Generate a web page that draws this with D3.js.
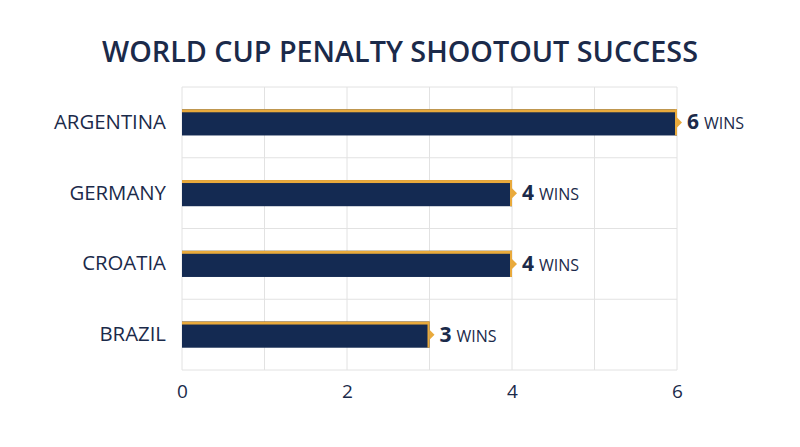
<!DOCTYPE html>
<html><head><meta charset="utf-8">
<script src="https://cdn.jsdelivr.net/npm/d3@7/dist/d3.min.js"></script>
<style>body{margin:0;background:#fff;} svg{display:block;}</style>
</head><body>
<svg id="c" width="800" height="447"></svg>
<script>
const categories = ["ARGENTINA", "GERMANY", "CROATIA", "BRAZIL"];
const wins = [6, 4, 4, 3];
const tickValues = [0, 2, 4, 6];
const title = "WORLD CUP PENALTY SHOOTOUT SUCCESS";
const unit = "WINS";

const navy = "#142a52", gold = "#e9aa3c", ink = "#1b2a4a", grid = "#e2e2e2";
const font = "'Open Sans', Lato, sans-serif";
const svg = d3.select("#c");
const m = {left: 182, right: 677, top: 87, bottom: 370};
const x = d3.scaleLinear().domain([0, 6]).range([m.left, m.right]);
const y = d3.scaleBand().domain(categories).range([m.top, m.bottom]).paddingInner(0.63).paddingOuter(0.315);

const t = svg.append("text").attr("x", 400).attr("y", 62).attr("text-anchor", "middle")
  .attr("font-family", font).attr("font-weight", 600).attr("font-size", 24).attr("fill", ink)
  .text(title);
const tw = t.node().getComputedTextLength();
t.attr("font-size", 24 * 596 / tw);

// grid
const g = svg.append("g");
g.selectAll("line.v").data(d3.range(0, 7)).join("line")
  .attr("x1", d => x(d)).attr("x2", d => x(d)).attr("y1", m.top).attr("y2", m.bottom)
  .attr("stroke", grid).attr("stroke-width", 1);
const hLines = d3.range(categories.length + 1).map(i => m.top + i * (m.bottom - m.top) / categories.length);
g.selectAll("line.h").data(hLines).join("line")
  .attr("x1", m.left).attr("x2", m.right).attr("y1", d => d).attr("y2", d => d)
  .attr("stroke", grid).attr("stroke-width", 1);

const data = categories.map((c, i) => ({c, v: wins[i]}));
const bars = svg.append("g").selectAll("g").data(data).join("g");
bars.append("rect").attr("x", x(0)).attr("y", d => y(d.c)).attr("width", d => x(d.v) - x(0)).attr("height", y.bandwidth())
  .attr("fill", navy);
bars.append("rect").attr("x", x(0)).attr("y", d => y(d.c)).attr("width", d => x(d.v) - x(0)).attr("height", 3)
  .attr("fill", gold);
bars.append("rect").attr("x", d => x(d.v) - 2).attr("y", d => y(d.c)).attr("width", 2).attr("height", y.bandwidth())
  .attr("fill", gold);
bars.append("path").attr("d", d => {
  const xe = x(d.v), yc = y(d.c) + y.bandwidth() / 2;
  return `M${xe},${yc - 5}L${xe + 5},${yc}L${xe},${yc + 5}Z`;
}).attr("fill", gold);

const lbl = bars.append("text").attr("x", d => x(d.v) + 10).attr("y", d => y(d.c) + y.bandwidth() / 2 + 7)
  .attr("font-family", font).attr("fill", ink);
lbl.append("tspan").attr("font-weight", 700).attr("font-size", 21).text(d => d.v);
lbl.append("tspan").attr("font-size", 16).attr("dx", 5).text(unit);

// y labels
const yl = svg.append("g").selectAll("text").data(categories).join("text")
  .attr("x", 166).attr("y", d => y(d) + y.bandwidth() / 2 + 6.5).attr("text-anchor", "end")
  .attr("font-family", font).attr("font-size", 18).attr("fill", ink).text(d => d);
const aw = yl.nodes()[0].getComputedTextLength();
yl.attr("font-size", 18 * 112 / aw);

// x axis
const ax = svg.append("g").attr("transform", `translate(0,${m.bottom})`)
  .call(d3.axisBottom(x).tickValues(tickValues).tickFormat(d3.format("d")).tickSize(0).tickPadding(15));
ax.select(".domain").remove();
ax.selectAll("text").attr("font-family", font).attr("font-size", 19).attr("fill", ink);
</script>
</body></html>
